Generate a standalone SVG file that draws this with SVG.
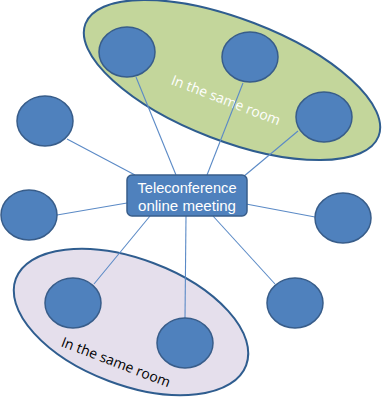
<svg xmlns="http://www.w3.org/2000/svg" width="382" height="400" viewBox="0 0 382 400">
<style>
.room{stroke:#2f5d8f;stroke-width:2}
.node{fill:#4f81bd;stroke:#385d8a;stroke-width:1.5}
.lbl{font-family:"Open Sans","Liberation Sans",sans-serif;font-size:14px;text-anchor:middle}
.ctr{font-family:"Liberation Sans",sans-serif;font-size:15.5px;text-anchor:middle;fill:#ffffff}
#connectors line{stroke:#5b8ac6;stroke-width:1.1}
</style>
<rect width="382" height="400" fill="#ffffff"/>
<g id="room1">
<ellipse class="room" cx="232" cy="80" rx="157" ry="61" transform="rotate(21 232 80)" fill="#c3d69b"/>
<text class="lbl" x="226" y="105" fill="#ffffff" transform="rotate(21 226 100)">In the same room</text>
</g>
<g id="room2">
<ellipse class="room" cx="131" cy="322" rx="123" ry="63" transform="rotate(20.6 131 322)" fill="#e5dfec"/>
<text class="lbl" x="116" y="367" fill="#000000" transform="rotate(21 116 362)">In the same room</text>
</g>
<g id="connectors">
<line x1="136" y1="77" x2="176" y2="175"/>
<line x1="243" y1="83" x2="207" y2="175"/>
<line x1="298" y1="131" x2="243" y2="177"/>
<line x1="67" y1="139" x2="135" y2="175"/>
<line x1="57" y1="215" x2="127" y2="203"/>
<line x1="246" y1="204" x2="315" y2="217"/>
<line x1="150" y1="216" x2="94" y2="284"/>
<line x1="186" y1="216" x2="185" y2="318"/>
<line x1="213" y1="216" x2="275" y2="284"/>
</g>
<g id="n1"><ellipse class="node" cx="127" cy="52" rx="28" ry="25"/></g>
<g id="n2"><ellipse class="node" cx="250" cy="57" rx="28" ry="25"/></g>
<g id="n3"><ellipse class="node" cx="324" cy="117" rx="28" ry="25"/></g>
<g id="n4"><ellipse class="node" cx="45" cy="121" rx="28" ry="25"/></g>
<g id="n5"><ellipse class="node" cx="29" cy="215" rx="28" ry="25"/></g>
<g id="n6"><ellipse class="node" cx="343" cy="218" rx="28" ry="25"/></g>
<g id="n7"><ellipse class="node" cx="73" cy="303" rx="28" ry="25"/></g>
<g id="n8"><ellipse class="node" cx="185" cy="343" rx="28" ry="25"/></g>
<g id="n9"><ellipse class="node" cx="295" cy="303" rx="28" ry="25"/></g>
<g id="center">
<rect class="node" x="127" y="175" width="120" height="41" rx="5"/>
<text class="ctr" x="187" y="193" textLength="99" lengthAdjust="spacingAndGlyphs">Teleconference</text>
<text class="ctr" x="187" y="211" textLength="98" lengthAdjust="spacingAndGlyphs">online meeting</text>
</g>
</svg>
